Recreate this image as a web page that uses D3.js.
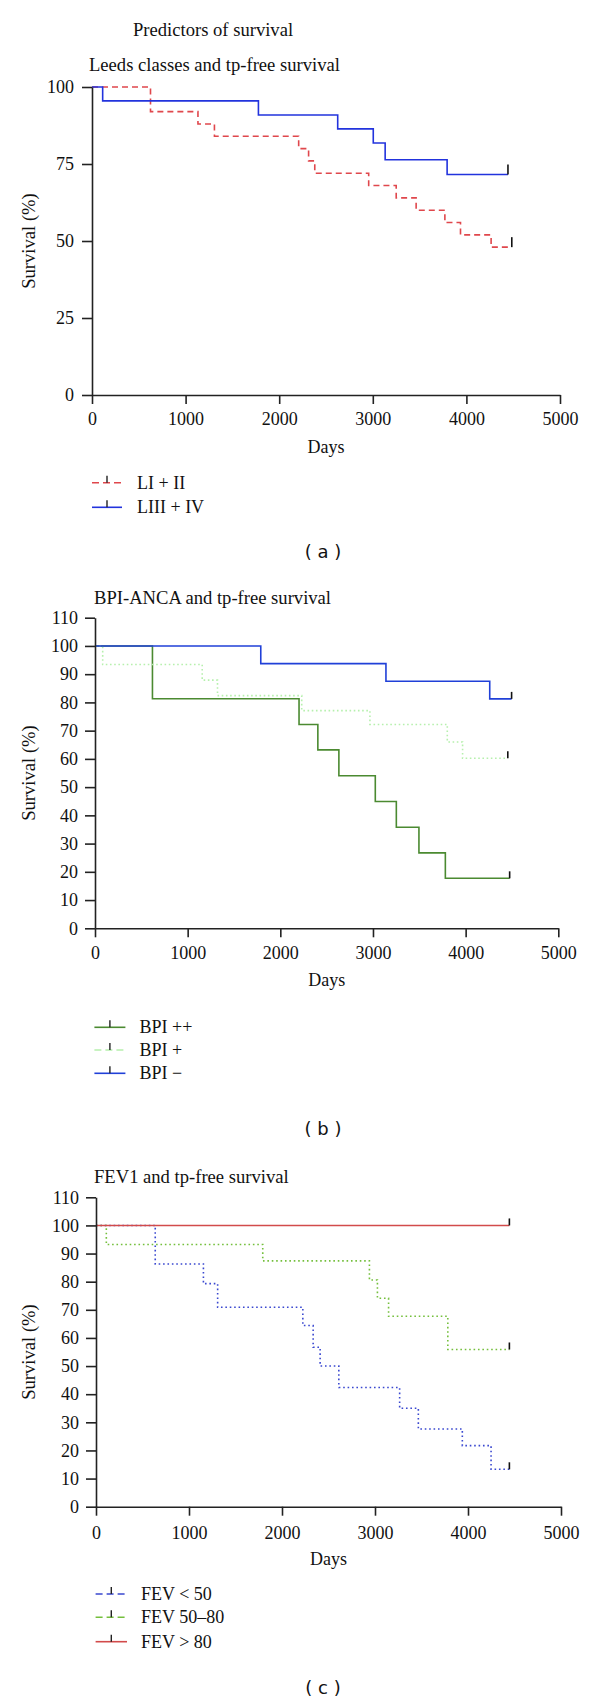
<!DOCTYPE html>
<html>
<head>
<meta charset="utf-8">
<script src="https://cdn.jsdelivr.net/npm/d3@7"></script>
<style>
  html, body { margin: 0; padding: 0; background: #fff; }
  svg { display: block; }
</style>
</head>
<body>
<script>
// ---------------- DATA ----------------
const xTickValues = [0, 1000, 2000, 3000, 4000, 5000];
const yTicksA = [0, 25, 50, 75, 100];
const yTicksBC = [0, 10, 20, 30, 40, 50, 60, 70, 80, 90, 100, 110];

// Panel (a) Leeds classes
const leedsLowDays = [0, 625, 1132, 1308, 2208, 2314, 2380, 2956, 3250, 3463, 3770, 3937, 4264, 4485];
const leedsLowSurv = [100, 92, 88, 84, 80, 76, 72, 68, 64, 60, 56, 52, 48, 48];
const leedsHighDays = [0, 114, 1778, 2625, 3005, 3132, 3794, 4444];
const leedsHighSurv = [100, 95.5, 90.9, 86.4, 81.8, 76.4, 71.6, 71.6];

// Panel (b) BPI-ANCA
const bpiPPDays = [0, 620, 2202, 2405, 2632, 3025, 3252, 3496, 3781, 4475];
const bpiPPSurv = [100, 81.3, 72.2, 63.2, 54.0, 44.9, 35.8, 26.7, 17.7, 17.7];
const bpiPDays = [0, 83, 1157, 1322, 2231, 2967, 3802, 3967, 4455];
const bpiPSurv = [100, 93.4, 87.9, 82.4, 77.1, 72.2, 66.0, 60.2, 60.2];
const bpiNDays = [0, 1789, 3140, 4260, 4496];
const bpiNSurv = [100, 93.75, 87.5, 81.25, 81.25];

// Panel (c) FEV1
const fevLowDays = [0, 637, 1155, 1308, 2224, 2335, 2410, 2611, 3265, 3466, 3939, 4248, 4445];
const fevLowSurv = [100, 86.3, 79.3, 70.9, 64.4, 56.7, 50.0, 42.4, 35.0, 27.6, 21.7, 13.3, 13.3];
const fevMidDays = [0, 111, 1793, 2940, 3026, 3146, 3783, 4445];
const fevMidSurv = [100, 93.2, 87.4, 80.6, 74.1, 67.7, 55.9, 55.9];
const fevHighDays = [0, 4445];
const fevHighSurv = [100, 100];

const legendA = ["LI + II", "LIII + IV"];
const legendB = ["BPI ++", "BPI +", "BPI \u2212"];
const legendC = ["FEV < 50", "FEV 50\u201380", "FEV > 80"];

// ---------------- DRAW ----------------
const SERIF = "'Liberation Serif','Times New Roman',Times,serif";
const SANS = "'DejaVu Sans',Verdana,sans-serif";
const FS = 18;      // labels
const FT = 18.6;    // titles

const svg = d3.select("body").append("svg")
  .attr("width", 600).attr("height", 1704)
  .style("background", "#fff");

svg.append("text").attr("x", 133).attr("y", 36)
  .attr("font-family", SERIF).attr("font-size", FT).attr("fill", "#111")
  .text("Predictors of survival");

function zip(days, surv) { return days.map((d, i) => ({ d: d, s: surv[i] })); }

function drawPanel(cfg) {
  const g = svg.append("g");
  const x = d3.scaleLinear().domain([0, 5000]).range(cfg.xRange);
  const y = d3.scaleLinear().domain([0, cfg.yMax]).range(cfg.yRange);

  g.append("text").attr("x", cfg.titleX).attr("y", cfg.titleY)
    .attr("font-family", SERIF).attr("font-size", FT).attr("fill", "#111")
    .text(cfg.title);

  // series
  const line = d3.line().x(p => x(p.d)).y(p => y(p.s)).curve(d3.curveStepAfter);
  cfg.series.forEach(s => {
    const pts = zip(s.days, s.surv);
    g.append("path").attr("d", line(pts))
      .attr("fill", "none").attr("stroke", s.color).attr("stroke-width", 1.6)
      .attr("stroke-dasharray", s.dash || null);
    const last = pts[pts.length - 1];
    g.append("line")
      .attr("x1", x(last.d)).attr("x2", x(last.d))
      .attr("y1", y(last.s)).attr("y2", y(last.s) - cfg.censorLen)
      .attr("stroke", "#111").attr("stroke-width", 1.6);
  });

  // axes
  const yAxis = d3.axisLeft(y).tickValues(cfg.yTicks).tickSize(10).tickSizeOuter(0).tickPadding(cfg.yPad);
  const gy = g.append("g").attr("transform", `translate(${cfg.xRange[0]},0)`).call(yAxis);
  const xAxis = d3.axisBottom(x).tickValues(xTickValues).tickSize(9).tickSizeOuter(0).tickFormat(d3.format("d"));
  const gx = g.append("g").attr("transform", `translate(0,${cfg.yRange[0]})`).call(xAxis);
  [gx, gy].forEach(ax => {
    ax.select(".domain").attr("stroke", "#222").attr("stroke-width", 1.6);
    ax.selectAll(".tick line").attr("stroke", "#222").attr("stroke-width", 1.6);
    ax.selectAll(".tick text").attr("font-family", SERIF).attr("font-size", FS).attr("fill", "#111");
  });
  gx.selectAll(".tick text").attr("y", cfg.xLabelOff).attr("dy", 0);

  g.append("text")
    .attr("x", (cfg.xRange[0] + cfg.xRange[1]) / 2).attr("y", cfg.daysY)
    .attr("text-anchor", "middle").attr("font-family", SERIF).attr("font-size", FS).attr("fill", "#111")
    .text("Days");

  const yc = (cfg.yRange[0] + cfg.yRange[1]) / 2;
  g.append("text")
    .attr("transform", `translate(35,${yc}) rotate(-90)`)
    .attr("text-anchor", "middle").attr("font-family", SERIF).attr("font-size", FT).attr("fill", "#111")
    .text("Survival (%)");

  // legend
  cfg.legend.forEach((lab, i) => {
    const s = cfg.series[cfg.legendOrder[i]];
    const ly = cfg.legendYs[i];
    const lx0 = cfg.legendX[0], lx1 = cfg.legendX[1];
    g.append("line").attr("x1", lx0).attr("x2", lx1).attr("y1", ly).attr("y2", ly)
      .attr("stroke", s.color).attr("stroke-width", 1.6)
      .attr("stroke-dasharray", s.dash ? "7,4" : null);
    const mx = (lx0 + lx1) / 2;
    g.append("line").attr("x1", mx).attr("x2", mx).attr("y1", ly).attr("y2", ly - 7)
      .attr("stroke", "#222").attr("stroke-width", 1.4);
    g.append("text").attr("x", cfg.legendTextX).attr("y", ly + 6)
      .attr("font-family", SERIF).attr("font-size", FS).attr("fill", "#111")
      .text(lab);
  });

  g.append("text").attr("x", 323).attr("y", cfg.labelY)
    .attr("text-anchor", "middle").attr("font-family", SANS).attr("font-size", 18).attr("fill", "#111")
    .attr("xml:space", "preserve")
    .text(cfg.label);
}

drawPanel({
  title: "Leeds classes and tp-free survival", titleX: 89, titleY: 71,
  xRange: [92, 560], yRange: [395, 87], yMax: 100, yTicks: yTicksA, yPad: 8,
  xLabelOff: 30, daysY: 453, censorLen: 10,
  series: [
    { days: leedsLowDays, surv: leedsLowSurv, color: "#e0474c", dash: "6,4" },
    { days: leedsHighDays, surv: leedsHighSurv, color: "#2233dd" }
  ],
  legend: legendA, legendOrder: [0, 1], legendYs: [482.7, 507.3],
  legendX: [92, 122], legendTextX: 137,
  label: "( a )", labelY: 558
});

drawPanel({
  title: "BPI-ANCA and tp-free survival", titleX: 94, titleY: 604,
  xRange: [95, 558.3], yRange: [928.3, 617.7], yMax: 110, yTicks: yTicksBC, yPad: 7,
  xLabelOff: 31, daysY: 985.5, censorLen: 7,
  series: [
    { days: bpiPPDays, surv: bpiPPSurv, color: "#4b8a31" },
    { days: bpiPDays, surv: bpiPSurv, color: "#b6f0ad", dash: "1.6,2.6" },
    { days: bpiNDays, surv: bpiNSurv, color: "#2040d8" }
  ],
  legend: legendB, legendOrder: [0, 1, 2], legendYs: [1027.3, 1050, 1073.3],
  legendX: [94.4, 125.4], legendTextX: 139.5,
  label: "( b )", labelY: 1135
});

drawPanel({
  title: "FEV1 and tp-free survival", titleX: 94, titleY: 1182.7,
  xRange: [96, 561], yRange: [1506.7, 1197.3], yMax: 110, yTicks: yTicksBC, yPad: 7,
  xLabelOff: 32, daysY: 1565, censorLen: 7,
  series: [
    { days: fevLowDays, surv: fevLowSurv, color: "#3a48d0", dash: "1.6,2.8" },
    { days: fevMidDays, surv: fevMidSurv, color: "#74bf3c", dash: "1.6,2.8" },
    { days: fevHighDays, surv: fevHighSurv, color: "#d24b4b" }
  ],
  legend: legendC, legendOrder: [0, 1, 2], legendYs: [1594, 1617.3, 1641.7],
  legendX: [95.6, 127], legendTextX: 141,
  label: "( c )", labelY: 1694
});
</script>
</body>
</html>
